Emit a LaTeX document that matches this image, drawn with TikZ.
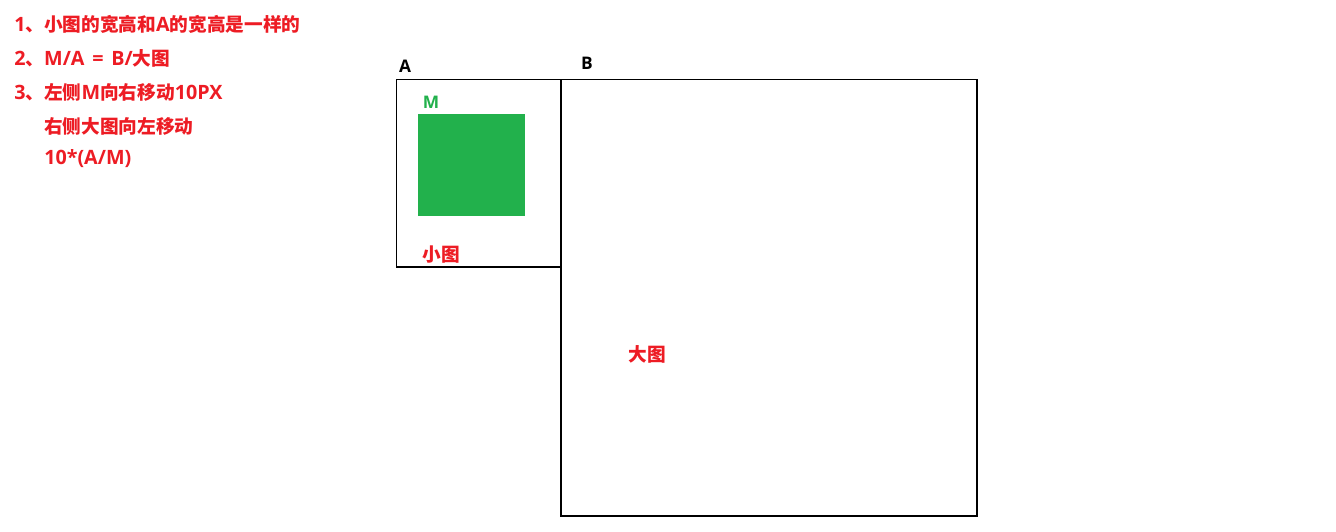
\documentclass[tikz,border=0pt]{standalone}
\usepackage{fontspec}
\setmainfont{Open Sans}[BoldFont={* Bold}]
\newfontfamily\cjkfam{Noto Sans CJK SC Bold}
\newcommand{\cj}[1]{{\cjkfam\fontsize{14pt}{16pt}\selectfont #1}}
\definecolor{myred}{HTML}{ED1C24}
\definecolor{mygreen}{HTML}{22B14C}
\begin{document}
\begin{tikzpicture}[x=0.75pt,y=-0.75pt,
  note/.style={anchor=west,inner sep=0pt,text=myred,font=\bfseries\fontsize{14.8pt}{16pt}\selectfont},
  lbl/.style={inner sep=0pt,font=\bfseries\fontsize{13pt}{15pt}\selectfont},
  frame/.style={draw=black,line width=0.8pt}]
\useasboundingbox (0,0) rectangle (1336,532);
\node[note] (l1) at (14,24) {1\cj{、小图的宽高和}A\cj{的宽高是一样的}};
\node[note] (l2) at (14,58) {2\cj{、}M/A\hspace{2pt} = \hspace{2pt}B/\cj{大图}};
\node[note] (l3) at (14,92) {3\cj{、左侧}M\cj{向右移动}10PX};
\node[note] (l4) at (44,126) {\cj{右侧大图向左移动}};
\node[note] (l5) at (44,159) {10*(A/M)};
\draw[frame] (396.5,79.5) rectangle (561,267);
\draw[frame] (561,79.5) rectangle (977,516);
\fill[mygreen] (418,114) rectangle (525,216);
\node[lbl] (la) at (405,66) {A};
\node[lbl] (lb) at (587,63) {B};
\node[lbl,text=mygreen] (lm) at (431,102) {M};
\node[note,anchor=center] (ls) at (441,255) {\cj{小图}};
\node[note,anchor=center] (lbig) at (647,354) {\cj{大图}};
\end{tikzpicture}
\end{document}
